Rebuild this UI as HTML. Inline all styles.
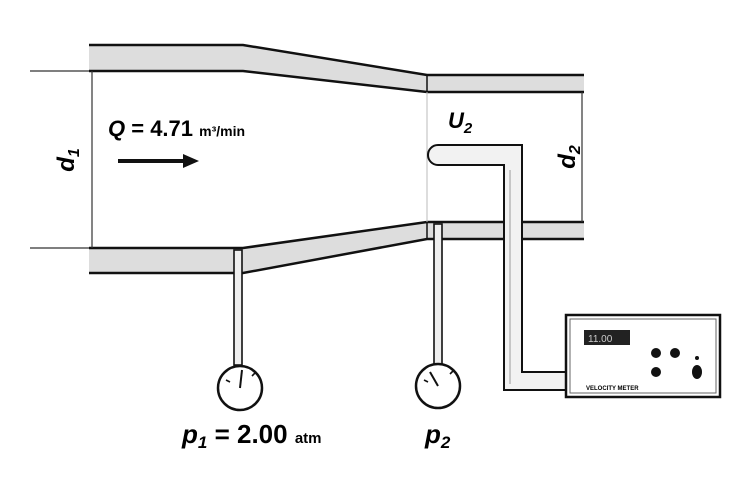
<!DOCTYPE html>
<html><head><meta charset="utf-8"><style>
html,body{margin:0;padding:0;background:#fff;}
svg{display:block;font-family:"Liberation Sans",sans-serif;}
</style></head><body>
<svg width="751" height="486" viewBox="0 0 751 486">
<g stroke="#111" stroke-width="2.5" fill="#ddd">
  <polygon points="89,45 243,45 427,75 584,75 584,92 427,92 243,71 89,71" stroke="none"/>
  <polyline points="89,45 243,45 427,75 584,75" fill="none"/>
  <polyline points="89,71 243,71 427,92 584,92" fill="none"/>
  <polygon points="89,248 243,248 427,222 584,222 584,239 427,239 243,273 89,273" stroke="none"/>
  <polyline points="89,248 243,248 427,222 584,222" fill="none"/>
  <polyline points="89,273 243,273 427,239 584,239" fill="none"/>
  <line x1="427" y1="75" x2="427" y2="92" stroke-width="1.5"/>
  <line x1="427" y1="222" x2="427" y2="239" stroke-width="1.5"/>
  <line x1="427" y1="92" x2="427" y2="222" stroke="#bbb" stroke-width="1"/>
</g>
<g stroke="#333" stroke-width="1.2">
  <line x1="30" y1="71" x2="89" y2="71"/>
  <line x1="30" y1="248" x2="89" y2="248"/>
  <line x1="92" y1="71" x2="92" y2="248"/>
  <line x1="582" y1="92" x2="582" y2="222"/>
</g>
<text x="74" y="160" transform="rotate(-90 74 160)" font-size="24" font-weight="bold" font-style="italic" text-anchor="middle">d<tspan font-size="16" dy="5">1</tspan></text>
<text x="575" y="157" transform="rotate(-90 575 157)" font-size="24" font-weight="bold" font-style="italic" text-anchor="middle">d<tspan font-size="16" dy="5">2</tspan></text>
<text x="108" y="136" font-size="22" font-weight="bold"><tspan font-style="italic">Q</tspan> = 4.71 <tspan font-size="14">m³/min</tspan></text>
<g>
  <line x1="118" y1="161" x2="185" y2="161" stroke="#111" stroke-width="4"/>
  <polygon points="183,154 199,161 183,168" fill="#111"/>
</g>
<text x="448" y="128" font-size="22" font-weight="bold" font-style="italic">U<tspan font-size="15" dy="5">2</tspan></text>
<g fill="#fff" stroke="#111" stroke-width="2">
  <path d="M522,145 L438,145 A10,10 0 0 0 438,165 L504,165 L504,390 L566,390 L566,372 L522,372 Z" fill="#f2f2f2"/>
  <line x1="510" y1="170" x2="510" y2="384" stroke="#999" stroke-width="1"/>
</g>
<g stroke="#111" stroke-width="1.6" fill="#fff">
  <rect x="234" y="250" width="8" height="115" fill="#eee"/>
  <circle cx="240" cy="388" r="22" stroke-width="2.5"/>
  <line x1="240" y1="388" x2="242" y2="370" stroke-width="2"/>
  <line x1="226" y1="380" x2="230" y2="382"/><line x1="252" y1="376" x2="256" y2="372"/>
</g>
<g stroke="#111" stroke-width="1.6" fill="#fff">
  <rect x="434" y="224" width="8" height="140" fill="#eee"/>
  <circle cx="438" cy="386" r="22" stroke-width="2.5"/>
  <line x1="438" y1="386" x2="430" y2="372" stroke-width="2"/>
  <line x1="424" y1="380" x2="428" y2="382"/><line x1="450" y1="374" x2="454" y2="370"/>
</g>
<g>
  <rect x="566" y="315" width="154" height="82" fill="#fff" stroke="#111" stroke-width="2.5"/>
  <rect x="570" y="319" width="146" height="74" fill="none" stroke="#666" stroke-width="1"/>
  <rect x="584" y="330" width="46" height="15" fill="#222"/>
  <text x="588" y="342" font-size="10" fill="#ccc">11.00</text>
  <circle cx="656" cy="353" r="5" fill="#111"/>
  <circle cx="675" cy="353" r="5" fill="#111"/>
  <circle cx="656" cy="372" r="5" fill="#111"/>
  <ellipse cx="697" cy="372" rx="5" ry="7" fill="#111"/>
  <circle cx="697" cy="358" r="2" fill="#111"/>
  <text x="586" y="390" font-size="6" font-weight="bold">VELOCITY METER</text>
</g>
<text x="182" y="443" font-size="26" font-weight="bold"><tspan font-style="italic">p</tspan><tspan font-size="17" dy="5" font-style="italic">1</tspan><tspan dy="-5"> = 2.00 </tspan><tspan font-size="15">atm</tspan></text>
<text x="425" y="443" font-size="26" font-weight="bold" font-style="italic">p<tspan font-size="17" dy="5">2</tspan></text>
</svg>
</body></html>
